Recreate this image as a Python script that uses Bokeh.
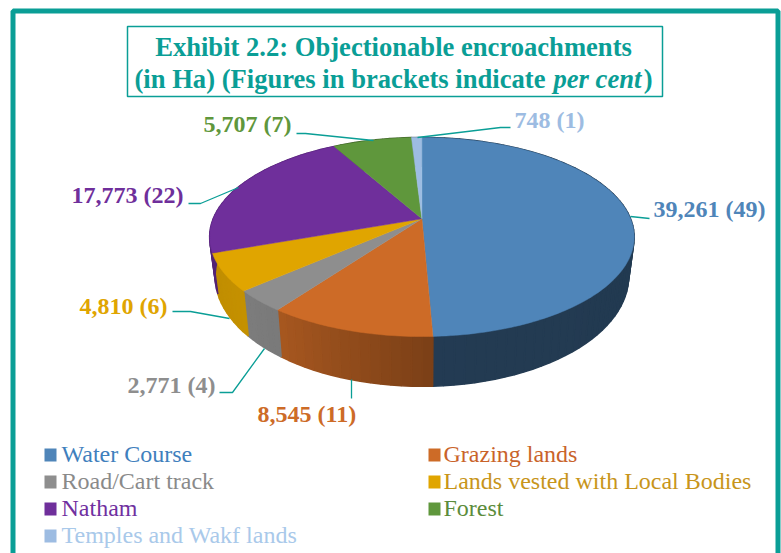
import numpy as np
from bokeh.plotting import figure
from bokeh.models import Range1d
from bokeh.core.properties import value
from bokeh.embed import file_html
from bokeh.resources import INLINE

categories = ["Water Course", "Grazing lands", "Road/Cart track", "Lands vested with Local Bodies",
              "Natham", "Forest", "Temples and Wakf lands"]
hectares = [39261, 8545, 2771, 4810, 17773, 5707, 748]
percents = [49, 11, 4, 6, 22, 7, 1]

face_colors = ["#4f85b9", "#cd6b27", "#8e8e8e", "#e0a500", "#6f2f9b", "#5f973c", "#9dbce2"]
legend_text = ["#3f80bd", "#c9632a", "#8a8a8a", "#c8951a", "#7030a0", "#5c8c3c", "#a9c9ea"]
wall_shade = [(0.42, 0.45), (0.60, 0.82), (0.86, 0.88), (0.88, 0.86), (0.75, 0.75), (0.6, 0.6), (0.6, 0.6)]

TEAL = "#0a9e96"
SERIF = value("Liberation Serif")

# perspective projection of the pie's disc
CX, CY = 421.4, 218.3
A, B, K = 208.7, 96.2, 0.183
WALL_SX, WALL_SY, WALL_DY = 0.974, 1.105, 37.4


def project(theta):
    u, v = np.sin(theta), -np.cos(theta)
    w = 1 - K * v
    return CX + A * u / w, CY + B * v / w


def base(x, y):
    return CX + (x - CX) * WALL_SX, CY + WALL_DY + (y - CY) * WALL_SY


def shade(color, f):
    r, g, b = [int(color[i:i + 2], 16) for i in (1, 3, 5)]
    return "#%02x%02x%02x" % (int(r * f), int(g * f), int(b * f))


p = figure(width=781, height=553, x_range=Range1d(0, 781), y_range=Range1d(553, 0),
           x_axis_location=None, y_axis_location=None, toolbar_location=None,
           output_backend="svg", min_border=0, outline_line_color=None)
p.grid.visible = False

# outer frame and title box
p.multi_line([[12.5, 12.5, 777.5, 777.5]], [[553, 10.5, 10.5, 553]], line_color=TEAL, line_width=5)
p.quad(left=[127], right=[662], top=[26], bottom=[96], fill_color=None, line_color=TEAL, line_width=1.5)

title_style = dict(text_font=SERIF, text_font_style="bold", text_color=TEAL, text_font_size="26.6px",
                   text_baseline="middle")
p.text([393], [46.5], ["Exhibit 2.2: Objectionable encroachments"], text_align="center", **title_style)
p.text([134], [78.5], ["(in Ha) (Figures in brackets indicate "], text_align="left", **title_style)
p.text([553], [78.5], ["per cent"], text_align="left",
       **{**title_style, "text_font_style": "bold italic"})
p.text([652], [78.5], [")"], text_align="right", **title_style)

fractions = np.array(hectares, dtype=float) / sum(hectares)
edges = np.concatenate([[0], np.cumsum(fractions)]) * 2 * np.pi

# side wall
for i, color in enumerate(face_colors):
    n = max(2, int(np.degrees(edges[i + 1] - edges[i]) / 2.5) + 1)
    t = np.linspace(edges[i], edges[i + 1], n + 1)
    s0, s1 = wall_shade[i]
    xs, ys, cs = [], [], []
    for j in range(n):
        x0, y0 = project(t[j])
        x1, y1 = project(t[j + 1])
        bx0, by0 = base(x0, y0)
        bx1, by1 = base(x1, y1)
        xs.append([x0, x1, bx1, bx0])
        ys.append([y0, y1, by1, by0])
        cs.append(shade(color, s0 + (s1 - s0) * (j + 0.5) / n))
    p.patches(xs, ys, fill_color=cs, line_color=cs, line_width=1.5)

# top faces
for i, color in enumerate(face_colors):
    t = np.linspace(edges[i], edges[i + 1], max(3, int(np.degrees(edges[i + 1] - edges[i]))))
    x, y = project(t)
    p.patch(np.r_[CX, x], np.r_[CY, y], fill_color=color, line_color=color, line_width=0.5)

# leader lines
leaders_x = [[630, 649], [417, 500, 510], [296, 305, 373], [188, 200, 238], [172, 190, 229], [219, 232, 264], [351, 351]]
leaders_y = [[216, 218], [137, 127, 127], [133, 133, 140], [203, 203, 187], [311, 311, 318], [392, 392, 348], [379, 398]]
p.multi_line(leaders_x, leaders_y, line_color=TEAL, line_width=1.3)

# data labels
label_x = [653, 257, 127, 79, 71, 203, 514]
label_y = [208, 413, 384, 305, 194, 123, 119]
for i in range(len(categories)):
    p.text([label_x[i]], [label_y[i]], [f"{hectares[i]:,} ({percents[i]})"],
           text_font=SERIF, text_font_style="bold", text_font_size="24px",
           text_color=face_colors[i], text_align="left", text_baseline="middle")

# legend
leg_sq_x = [44, 428, 44, 428, 44, 428, 44]
leg_row_y = [454, 454, 481, 481, 508, 508, 535]
for i in range(len(categories)):
    p.quad(left=[leg_sq_x[i]], right=[leg_sq_x[i] + 12], top=[leg_row_y[i] - 6], bottom=[leg_row_y[i] + 7],
           fill_color=face_colors[i], line_color=None)
    p.text([leg_sq_x[i] + 17 - (i % 2) * 2], [leg_row_y[i] - 1], [categories[i]], text_font=SERIF,
           text_font_size="24px", text_color=legend_text[i], text_align="left", text_baseline="middle")

open("out.html", "w").write(file_html(p, INLINE))
